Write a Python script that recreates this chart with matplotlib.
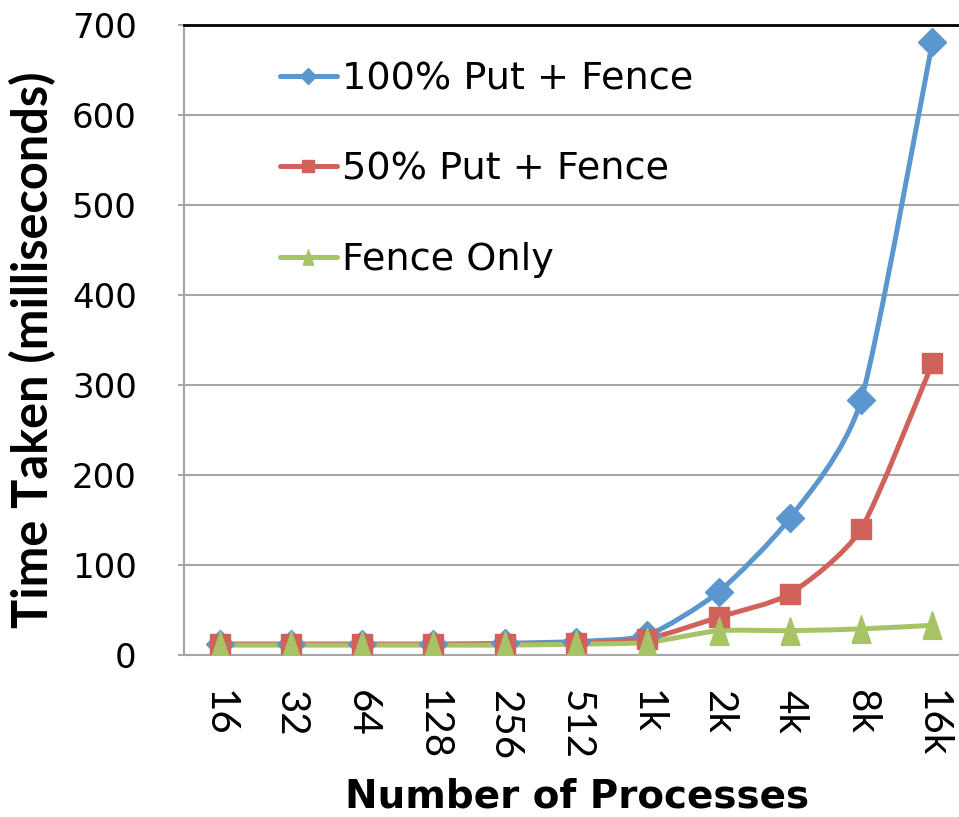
import matplotlib
matplotlib.use("Agg")
import matplotlib.pyplot as plt
from matplotlib.path import Path
from matplotlib.patches import PathPatch
from matplotlib.lines import Line2D
import numpy as np

# processes and measured times (ms)
procs = ["16", "32", "64", "128", "256", "512", "1k", "2k", "4k", "8k", "16k"]
put100 = [12, 12, 12, 12, 13, 15, 22, 70, 152, 283, 681]
put50 = [12, 12, 12, 12, 12, 13, 18, 42, 68, 140, 324]
fence = [11, 11, 11, 11, 11, 12, 14, 27, 27, 29, 33]

labels = ["100% Put + Fence", "50% Put + Fence", "Fence Only"]
colors = ["#5B96CF", "#D1625A", "#A6C465"]

# tall triangle like the Excel one
tri = [(-0.34, -0.5), (0.34, -0.5), (0.0, 0.5), (-0.34, -0.5)]
markers = ["D", "s", tri]
msizes = [14, 14.5, 20]
leg_ms = [8, 9, 11]

plt.rcParams["font.family"] = ["DejaVu Sans"]
narrow = ["Lato", "DejaVu Sans"]


def smooth_path(xs, ys, k=0.11):
    # cubic bezier through every point, damped catmull-rom tangents
    pts = np.column_stack([xs, ys]).astype(float)
    n = len(pts)
    verts = [pts[0]]
    codes = [Path.MOVETO]
    for i in range(n - 1):
        p0 = pts[i - 1] if i > 0 else pts[i]
        p1 = pts[i]
        p2 = pts[i + 1]
        p3 = pts[i + 2] if i + 2 < n else pts[i + 1]
        c1 = p1 + (p2 - p0) * k
        c2 = p2 - (p3 - p1) * k
        verts += [c1, c2, p2]
        codes += [Path.CURVE4] * 3
    return Path(verts, codes)


fig = plt.figure(figsize=(9.59, 8.17), dpi=100)
ax = fig.add_axes([184 / 959, 1 - 655 / 817, 784 / 959, 630 / 817])

x = np.arange(len(procs))
handles = []
for vals, lab, col, mk, ms, lms in zip([put100, put50, fence], labels, colors,
                                        markers, msizes, leg_ms):
    ax.add_patch(PathPatch(smooth_path(x, vals), facecolor="none", edgecolor=col,
                           lw=3.6, capstyle="round", joinstyle="round", zorder=3))
    ax.plot(x, vals, linestyle="none", marker=mk, ms=ms, color=col, zorder=4)
    handles.append(Line2D([], [], color=col, lw=3.6, marker=mk, ms=lms,
                          solid_capstyle="round", label=lab))

ax.set_xlim(-0.5, len(procs) - 0.5)
ax.set_ylim(0, 700)
ax.set_yticks(range(0, 701, 100))
ax.set_xticks(x)
ax.set_xticklabels(procs, rotation=270, family=narrow, fontsize=29)
ax.grid(axis="y", color="#A6A6A6", lw=1.5, zorder=0)
ax.set_axisbelow(True)

for s in ["left", "bottom"]:
    ax.spines[s].set_color("#A6A6A6")
    ax.spines[s].set_linewidth(1.5)
ax.spines["top"].set_color("black")
ax.spines["top"].set_linewidth(2)
ax.spines["right"].set_visible(False)

ax.tick_params(axis="y", labelsize=24.5, length=4, width=1.4, color="#A6A6A6", pad=30)
ax.tick_params(axis="x", length=0, pad=25)

fig.text(33 / 959, 1 - 350 / 817, "Time Taken (milliseconds)", rotation=90,
         ha="center", va="center", family=["Lato", "DejaVu Sans"], fontsize=35,
         fontweight="bold")
fig.text(577 / 959, 1 - 796 / 817, "Number of Processes", ha="center", va="center",
         fontsize=28, fontweight="bold")

ax.legend(handles=handles, loc="upper left", bbox_to_anchor=(0.122, 0.942), frameon=False,
          fontsize=27.5, handlelength=1.5, handletextpad=0.13, labelspacing=1.42,
          borderpad=0, borderaxespad=0)

fig.savefig("out.png", dpi=100)
